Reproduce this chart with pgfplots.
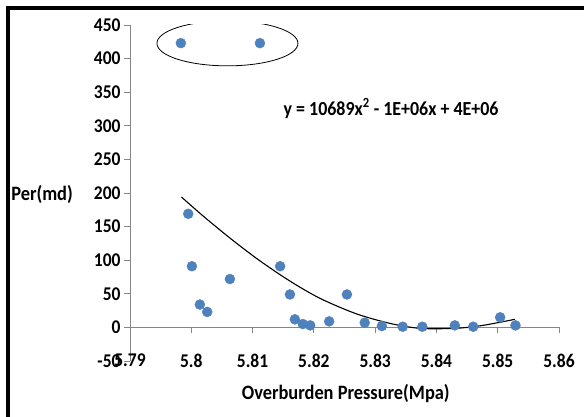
\documentclass[border=0pt]{standalone}
\usepackage{fontspec}
\setmainfont{Carlito}[FakeStretch=0.9]
\usepackage{pgfplots}
\pgfplotsset{compat=1.18}
\usetikzlibrary{shapes.geometric}
\definecolor{ptblue}{HTML}{4F81BD}
\definecolor{axgray}{HTML}{868686}
\begin{document}
\begin{tikzpicture}
\path[use as bounding box] (0,0) rectangle (584bp,417bp);
\draw[line width=4bp] (8bp,0) -- (8bp,409bp) -- (584bp,409bp);
\begin{axis}[
  at={(130bp,56bp)}, anchor=south west,
  scale only axis, width=429bp, height=336bp,
  xmin=5.79, xmax=5.86, ymin=-50, ymax=450,
  xtick={5.79,5.8,5.81,5.82,5.83,5.84,5.85,5.86},
  ytick={-50,0,50,100,150,200,250,300,350,400,450},
  scaled x ticks=false,
  axis x line=middle, axis y line=left,
  hide obscured x ticks=false, hide obscured y ticks=false,
  axis line style={-,draw=axgray,line width=0.8bp},
  tick style={draw=axgray,line width=0.8bp},
  tick align=outside, major tick length=6bp,
  /pgf/number format/assume math mode=true,
  tick label style={font=\bfseries\fontsize{19.5}{20}\selectfont,black},
  xticklabel style={yshift=-17bp},
  xlabel={Overburden Pressure(Mpa)},
  ylabel={Per(md)},
  label style={font=\bfseries\fontsize{20.5}{22}\selectfont},
  xlabel style={at={(axis description cs:0.503,-0.098)},anchor=center},
  ylabel style={at={(axis description cs:-0.205,0.497)},rotate=-90,anchor=center},
]
\addplot[only marks,mark=*,mark size=5bp,mark options={fill=ptblue,draw=ptblue}]
coordinates {
(5.7983,423) (5.8112,423) (5.7995,169) (5.8001,91) (5.8014,34) (5.8026,23)
(5.8063,72) (5.8145,91) (5.8161,49) (5.8169,12) (5.8182,5) (5.8194,3)
(5.8225,9) (5.8254,49) (5.8283,7) (5.8311,2) (5.8345,1) (5.8377,1)
(5.8430,3) (5.8460,1) (5.8504,15) (5.8529,3)
};
\addplot[black,line width=1.1bp,smooth,tension=0.5]
coordinates {
(5.7984,194) (5.8019,166) (5.8063,133) (5.8106,103) (5.8144,79) (5.8177,60)
(5.8215,41) (5.8270,20) (5.8324,6) (5.8368,-1) (5.8400,-2) (5.8438,-1)
(5.8476,3) (5.8528,12)
};
\node[draw,ellipse,line width=0.8bp,minimum width=141bp,minimum height=45bp,inner sep=0pt]
  at (axis cs:5.8059,422.7) {};
\node[font=\bfseries\fontsize{20}{22}\selectfont] at (axis cs:5.8326,326)
  {y = 10689x\textsuperscript{2} - 1E+06x + 4E+06};
\end{axis}
\end{tikzpicture}
\end{document}
